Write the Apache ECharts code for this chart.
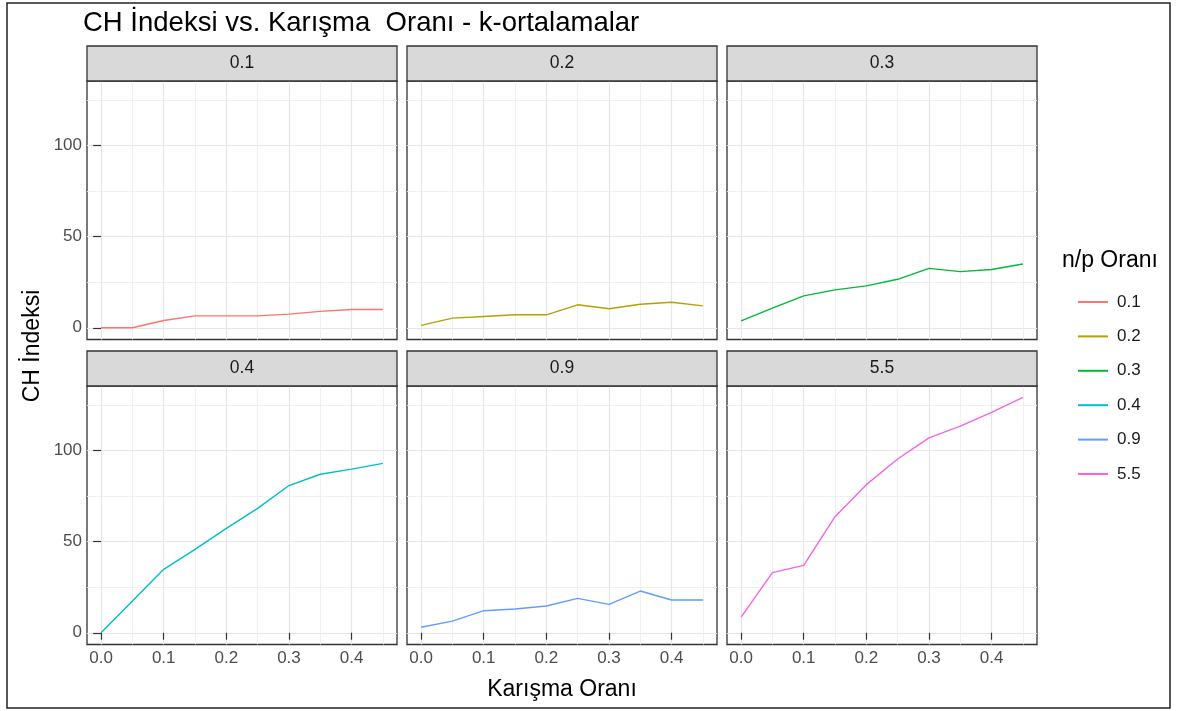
<!DOCTYPE html>
<html><head><meta charset="utf-8">
<script src="https://cdn.jsdelivr.net/npm/echarts@6/dist/echarts.min.js"></script>
<style>html,body{margin:0;padding:0;background:#fff}#c{width:1177px;height:711px}</style>
</head><body><div id="c"></div>
<script>
// ---- data ----
const mixRatio = [0, 0.05, 0.1, 0.15, 0.2, 0.25, 0.3, 0.35, 0.4, 0.45];
const npRatios = ['0.1', '0.2', '0.3', '0.4', '0.9', '5.5'];
const ch_01 = [0, 0, 4, 6.5, 6.5, 6.5, 7.5, 9, 10, 10];
const ch_02 = [1.3, 5.3, 6.2, 7.1, 7.1, 12.6, 10.4, 12.9, 14, 12];
const ch_03 = [3.8, 10.8, 17.5, 20.8, 23, 26.6, 32.6, 30.8, 32, 35];
const ch_04 = [0, 17.4, 34.8, 45.8, 57.3, 68.3, 80.8, 87, 89.8, 93];
const ch_09 = [3, 6.4, 12.1, 13, 14.7, 18.9, 15.6, 22.9, 18, 18];
const ch_55 = [8.6, 33, 37, 63.7, 81.3, 95.4, 107, 113.4, 121, 129.2];
const xMajorTicks = [0, 0.1, 0.2, 0.3, 0.4];
const xMinorTicks = [0.05, 0.15, 0.25, 0.35, 0.45];
const yMajorTicks = [0, 50, 100];
const yMinorTicks = [25, 75, 125];
const titleText = 'CH İndeksi vs. Karışma  Oranı - k-ortalamalar';
const xTitle = 'Karışma Oranı';
const yTitle = 'CH İndeksi';
const legendTitle = 'n/p Oranı';

const seriesValues = [ch_01, ch_02, ch_03, ch_04, ch_09, ch_55];
const colors = ['#F8766D', '#B79F00', '#00BA38', '#00BFC4', '#619CFF', '#F564E3'];

// ---- layout ----
const FONT = '"Liberation Sans", Arial, sans-serif';
const colLeft = [87, 407, 727];
const rowTop = [81, 386];
const panelW = 310, panelH = 258.5, stripH = 35;
const xMin = -0.0225, xMax = 0.4725, yMin = -6.45, yMax = 135.45;

const grids = [], xAxes = [], yAxes = [], series = [], graphics = [];

npRatios.forEach((name, i) => {
  const r = Math.floor(i / 3), c = i % 3;
  const left = colLeft[c], top = rowTop[r];
  const bottomRow = r === 1, leftCol = c === 0;
  grids.push({left: left, top: top, width: panelW, height: panelH, show: true,
    backgroundColor: '#fff', borderColor: '#333', borderWidth: 1.3, containLabel: false});
  // major x
  xAxes.push({type: 'value', gridIndex: i, min: xMin, max: xMax,
    axisLine: {show: false},
    axisTick: {show: bottomRow, customValues: xMajorTicks, length: 7, lineStyle: {color: '#333', width: 1.2}},
    axisLabel: {show: bottomRow, customValues: xMajorTicks, formatter: v => v.toFixed(1),
      color: '#4d4d4d', fontSize: 17, fontFamily: FONT, margin: 5},
    splitLine: {show: true, lineStyle: {color: '#e6e6e6', width: 1.2}}});
  // minor x
  xAxes.push({type: 'value', gridIndex: i, min: xMin, max: xMax,
    axisLine: {show: false},
    axisTick: {show: false, customValues: xMinorTicks},
    axisLabel: {show: false, customValues: xMinorTicks},
    splitLine: {show: true, lineStyle: {color: '#eeeeee', width: 0.9}}});
  // major y
  yAxes.push({type: 'value', gridIndex: i, min: yMin, max: yMax,
    axisLine: {show: false},
    axisTick: {show: leftCol, customValues: yMajorTicks, length: 8, lineStyle: {color: '#333', width: 1.2}},
    axisLabel: {show: leftCol, customValues: yMajorTicks, formatter: v => String(Math.round(v)),
      color: '#4d4d4d', fontSize: 17, fontFamily: FONT, margin: 5},
    splitLine: {show: true, lineStyle: {color: '#e6e6e6', width: 1.2}}});
  // minor y
  yAxes.push({type: 'value', gridIndex: i, min: yMin, max: yMax,
    axisLine: {show: false},
    axisTick: {show: false, customValues: yMinorTicks},
    axisLabel: {show: false, customValues: yMinorTicks},
    splitLine: {show: true, lineStyle: {color: '#eeeeee', width: 0.9}}});

  series.push({name: name, type: 'line', xAxisIndex: 2 * i, yAxisIndex: 2 * i,
    data: mixRatio.map((x, k) => [x, seriesValues[i][k]]),
    showSymbol: false, symbol: 'none', color: colors[i],
    lineStyle: {color: colors[i], width: 1.4}, z: 5});

  // strip
  graphics.push({type: 'rect', shape: {x: left, y: top - stripH, width: panelW, height: stripH},
    style: {fill: '#d9d9d9', stroke: '#333', lineWidth: 1.3}, z: 10});
  graphics.push({type: 'text', x: left + panelW / 2, y: top - stripH / 2,
    style: {text: name, fill: '#1a1a1a', fontSize: 17.5, fontFamily: FONT, align: 'center', verticalAlign: 'middle'}, z: 11});
});

// titles
graphics.push({type: 'text', x: 83, y: 23,
  style: {text: titleText, fill: '#000', fontSize: 27.5, fontFamily: FONT, align: 'left', verticalAlign: 'middle'}});
graphics.push({type: 'text', x: (colLeft[0] + colLeft[2] + panelW) / 2, y: 690,
  style: {text: xTitle, fill: '#000', fontSize: 23, fontFamily: FONT, align: 'center', verticalAlign: 'middle'}});
graphics.push({type: 'text', x: 33, y: 346, rotation: Math.PI / 2,
  style: {text: yTitle, fill: '#000', fontSize: 23, fontFamily: FONT, align: 'center', verticalAlign: 'middle'}});
graphics.push({type: 'text', x: 1062, y: 261,
  style: {text: legendTitle, fill: '#000', fontSize: 23, fontFamily: FONT, align: 'left', verticalAlign: 'middle'}});
// outer frame
graphics.push({type: 'rect', shape: {x: 7, y: 3, width: 1163, height: 705},
  style: {fill: 'none', stroke: '#222', lineWidth: 1.5}, z: 0, silent: true});

const chart = echarts.init(document.getElementById('c'), null, {renderer: 'canvas'});
chart.setOption({
  animation: false,
  backgroundColor: '#fff',
  grid: grids, xAxis: xAxes, yAxis: yAxes, series: series,
  legend: {data: npRatios.map(n => ({name: n, icon: 'rect'})), orient: 'vertical',
    left: 1073, top: 287, itemWidth: 30, itemHeight: 2, itemGap: 14.4, selectedMode: false,
    textStyle: {fontSize: 17, color: '#1a1a1a', fontFamily: FONT, lineHeight: 20, padding: [0, 0, 0, 4]}},
  graphic: {elements: graphics}
});
</script>
</body></html>
